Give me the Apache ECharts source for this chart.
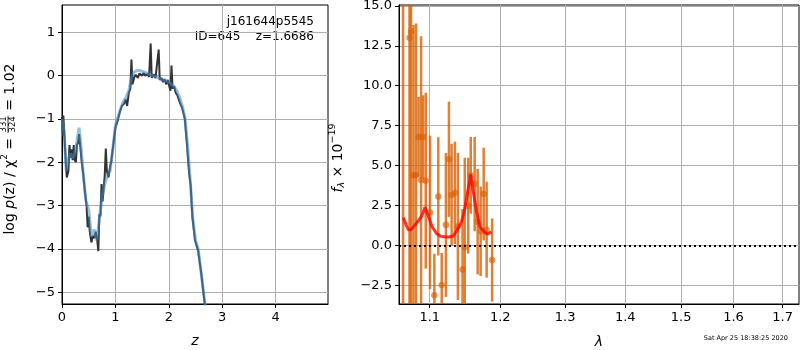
<!DOCTYPE html>
<html>
<head>
<meta charset="utf-8">
<script src="https://cdn.jsdelivr.net/npm/echarts@6/dist/echarts.min.js"></script>
<style>
  html, body { margin: 0; padding: 0; background: #fff; }
  #chart { width: 800px; height: 350px; }
</style>
</head>
<body>
<div id="chart"></div>
<script>
// left panel: log p(z)
const zDark = [0.00,0.02,0.025,0.04,0.07,0.09,0.12,0.14,0.16,0.18,0.20,0.22,0.24,0.26,0.28,0.30,0.32,0.34,0.37,0.40,
  0.43,0.46,0.48,0.50,0.52,0.55,0.58,0.61,0.63,0.66,0.68,0.70,0.72,0.74,0.76,0.78,0.80,0.82,0.84,0.87,
  0.90,0.92,0.96,1.00,1.04,1.08,1.12,1.16,1.19,1.22,1.25,1.28,1.30,1.32,1.35,1.38,1.42,1.45,1.48,1.50,
  1.53,1.56,1.60,1.63,1.66,1.68,1.72,1.75,1.78,1.81,1.83,1.86,1.89,1.92,1.95,1.98,2.01,2.03,2.05,2.07,
  2.10,2.13,2.16,2.20,2.25,2.30,2.34,2.38,2.41,2.44,2.49,2.55,2.61,2.67,2.70];
const logpDark = [-0.95,-1.40,-0.92,-1.25,-2.00,-2.35,-2.20,-1.60,-1.90,-1.70,-1.95,-1.60,-1.95,-2.00,-1.60,-1.55,-1.35,-1.60,-2.00,-2.30,
  -2.70,-3.00,-3.50,-3.25,-3.60,-3.85,-3.70,-3.75,-3.60,-3.80,-4.05,-3.20,-3.25,-2.50,-2.90,-2.60,-2.30,-1.68,-2.20,-2.35,
  -2.10,-2.00,-1.60,-1.20,-1.05,-0.85,-0.70,-0.65,-0.55,-0.70,-0.40,-0.30,0.37,-0.20,-0.05,0.02,-0.05,0.05,0.08,0.00,
  0.06,0.00,0.04,-0.03,0.74,-0.05,0.03,-0.06,-0.08,0.60,-0.10,-0.05,-0.15,-0.08,-0.20,-0.10,-0.25,-0.35,0.23,-0.30,
  -0.25,-0.40,-0.45,-0.60,-0.75,-1.00,-1.60,-2.25,-2.55,-3.25,-3.80,-4.05,-4.60,-5.25,-5.60];
const zFit = [0.00,0.04,0.08,0.12,0.16,0.20,0.24,0.28,0.32,0.35,0.40,0.45,0.50,0.55,0.60,0.65,0.70,0.75,0.80,0.85,
  0.90,0.95,1.00,1.05,1.10,1.15,1.20,1.25,1.30,1.35,1.40,1.45,1.50,1.55,1.60,1.65,1.70,1.75,1.80,1.85,
  1.90,1.95,2.00,2.05,2.10,2.15,2.20,2.25,2.30,2.35,2.40,2.45,2.50,2.55,2.60,2.65,2.70];
const logpFit = [-1.00,-1.30,-2.20,-1.90,-1.80,-1.90,-1.80,-1.50,-1.20,-1.55,-2.30,-2.90,-3.10,-3.70,-3.55,-3.80,-3.30,-2.80,-2.50,-2.30,
  -2.20,-1.70,-1.15,-0.95,-0.75,-0.60,-0.50,-0.35,-0.05,0.08,0.12,0.12,0.10,0.08,0.05,0.02,0.00,-0.02,-0.05,-0.08,
  -0.10,-0.12,-0.15,-0.20,-0.25,-0.35,-0.50,-0.70,-0.95,-1.60,-2.40,-3.30,-3.80,-4.00,-4.50,-5.00,-5.50];
const zTicks = [0, 1, 2, 3, 4];
const logpTicks = [-5, -4, -3, -2, -1, 0, 1];

// right panel: spectrum
const lam = [1.0644,1.0729,1.0749,1.0782,1.0816,1.0849,1.0883,1.0910,1.0946,1.1004,1.1063,1.1117,1.1164,1.1222,1.1264,
  1.1301,1.1347,1.1389,1.1454,1.1486,1.1535,1.1571,1.1627,1.1670,1.1713,1.1757,1.1800,1.1880];
const flux = [17.0,13.0,13.4,4.4,4.4,6.8,4.1,6.8,4.06,2.08,-3.1,3.08,-2.46,1.3,5.4,
  3.17,3.3,1.2,-1.5,-0.1,2.5,4.4,3.85,1.5,0.9,3.23,1.0,-0.9];
const fluxErr = [25,18,18,9.4,9.5,2.5,9.0,2.6,5.5,4.8,2.6,3.7,2.0,4.5,3.6,
  3.2,3.2,4.6,3.8,5.6,3.0,2.4,2.95,3.3,2.8,2.9,3.0,2.6];
const lamModel = [1.0648,1.0684,1.0714,1.0750,1.0803,1.0856,1.0897,1.0936,1.0977,1.1031,1.1095,1.1154,1.1209,1.1264,
  1.1323,1.1375,1.1441,1.1486,1.1528,1.1571,1.1606,1.1651,1.1699,1.1742,1.1794,1.1827,1.1870];
const fluxModel = [1.75,1.3,1.0,1.0,1.3,1.6,1.9,2.4,1.9,1.2,0.75,0.58,0.55,0.54,
  0.6,0.95,1.5,2.3,3.4,4.45,3.4,2.2,1.2,1.0,0.75,0.75,0.85];
const lamTicks = [1.1, 1.2, 1.3, 1.4, 1.5, 1.6, 1.7];
const fluxTicks = [-2.5, 0, 2.5, 5, 7.5, 10, 12.5, 15];

const FONT = "DejaVu Sans";
const ORANGE = "rgba(217, 95, 2, 0.8)";
const minus = (s) => String(s).replace("-", "\u2212");

function axisCommon(ticks, fmt) {
  return {
    axisLine: { show: true, onZero: false, lineStyle: { color: "#000", width: 1 } },
    axisTick: { show: true, length: 4, customValues: ticks, lineStyle: { color: "#000" } },
    axisLabel: { customValues: ticks, color: "#000", fontFamily: FONT, fontSize: 13, margin: 7, formatter: fmt },
    splitLine: { show: true, lineStyle: { color: "#b0b0b0", width: 1 } },
  };
}

// composite label (mathtext-like) laid out in a rotated group
const measureCtx = document.createElement("canvas").getContext("2d");
function fontStr(size, italic) {
  return (italic ? "italic " : "") + size + "px '" + FONT + "'";
}
function richLabel(pieces, cx, cy) {
  const items = [];
  let total = 0;
  pieces.forEach((p) => {
    let w;
    if (p.frac) {
      measureCtx.font = fontStr(p.size, false);
      w = Math.max(measureCtx.measureText(p.frac[0]).width, measureCtx.measureText(p.frac[1]).width) + 2;
    } else {
      measureCtx.font = fontStr(p.size, p.italic);
      w = measureCtx.measureText(p.text).width;
    }
    items.push({ p: p, w: w });
    total += w;
  });
  const children = [];
  let x = -total / 2;
  items.forEach(({ p, w }) => {
    if (p.frac) {
      const mid = x + w / 2;
      children.push({ type: "text", x: mid, y: -6, style: { text: p.frac[0], font: fontStr(p.size, false), fill: "#000", align: "center", verticalAlign: "middle" } });
      children.push({ type: "text", x: mid, y: 2.5, style: { text: p.frac[1], font: fontStr(p.size, false), fill: "#000", align: "center", verticalAlign: "middle" } });
      children.push({ type: "line", shape: { x1: x + 0.5, y1: -2, x2: x + w - 0.5, y2: -2 }, style: { stroke: "#000", lineWidth: 0.8 } });
    } else {
      children.push({ type: "text", x: x, y: p.dy || 0, style: { text: p.text, font: fontStr(p.size, p.italic), fill: "#000", align: "left", verticalAlign: "middle" } });
    }
    x += w;
  });
  return { type: "group", x: cx, y: cy, rotation: Math.PI / 2, children: children, silent: true };
}

const chart = echarts.init(document.getElementById("chart"));
const option = {
  animation: false,
  backgroundColor: "#fff",
  grid: [
    { left: 62, top: 5, width: 266, height: 299, outerBoundsMode: "none", containLabel: false, show: true, borderColor: "#000", borderWidth: 1, backgroundColor: "transparent" },
    { left: 399, top: 5, width: 400, height: 299, outerBoundsMode: "none", containLabel: false, show: true, borderColor: "#000", borderWidth: 1, backgroundColor: "transparent" },
  ],
  xAxis: [
    Object.assign({
      type: "value", gridIndex: 0, min: 0, max: 4.98,
      name: "z", nameLocation: "middle", nameGap: 30,
      nameTextStyle: { fontFamily: FONT, fontSize: 14, fontStyle: "italic", color: "#000" },
    }, axisCommon(zTicks, (v) => minus(v))),
    Object.assign({
      type: "log", gridIndex: 1, min: 1.0591, max: 1.7346,
      name: "\u03bb", nameLocation: "middle", nameGap: 31,
      nameTextStyle: { fontFamily: FONT, fontSize: 14, fontStyle: "italic", color: "#000" },
    }, axisCommon(lamTicks, (v) => v.toFixed(1))),
  ],
  yAxis: [
    Object.assign({ type: "value", gridIndex: 0, min: -5.27, max: 1.63 }, axisCommon(logpTicks, (v) => minus(v))),
    Object.assign({ type: "value", gridIndex: 1, min: -3.65, max: 15.05 }, axisCommon(fluxTicks, (v) => minus(v.toFixed(1)))),
  ],
  series: [
    {
      type: "line", xAxisIndex: 0, yAxisIndex: 0, showSymbol: false, clip: true,
      data: zDark.map((z, i) => [z, logpDark[i]]),
      lineStyle: { color: "#333333", width: 2 },
    },
    {
      type: "line", xAxisIndex: 0, yAxisIndex: 0, showSymbol: false, clip: true,
      data: zFit.map((z, i) => [z, logpFit[i]]),
      lineStyle: { color: "rgba(70, 140, 200, 0.55)", width: 3 },
    },
    {
      type: "custom", xAxisIndex: 1, yAxisIndex: 1, clip: true,
      data: lam.map((l, i) => [l, flux[i], fluxErr[i]]),
      renderItem: function (params, api) {
        const x = api.value(0), y = api.value(1), e = api.value(2);
        const cs = params.coordSys;
        const top = api.coord([x, y + e]);
        const bot = api.coord([x, y - e]);
        const y1 = Math.max(top[1], cs.y), y2 = Math.min(bot[1], cs.y + cs.height);
        return { type: "line", shape: { x1: top[0], y1: y1, x2: bot[0], y2: y2 }, style: { stroke: ORANGE, lineWidth: 2.5 } };
      },
    },
    {
      type: "scatter", xAxisIndex: 1, yAxisIndex: 1, symbolSize: 6.5, clip: true,
      data: lam.map((l, i) => [l, flux[i]]),
      itemStyle: { color: ORANGE },
    },
    {
      type: "line", xAxisIndex: 1, yAxisIndex: 1, showSymbol: false, clip: true,
      data: lamModel.map((l, i) => [l, fluxModel[i]]),
      lineStyle: { color: "rgba(255, 0, 0, 0.8)", width: 3 },
      markLine: {
        silent: true, symbol: "none", label: { show: false },
        lineStyle: { color: "#000", type: [2, 3], width: 2 },
        data: [{ yAxis: 0 }],
      },
    },
  ],
  graphic: [
    { type: "text", right: 800 - 314, top: 16, style: { text: "j161644p5545", font: "12px '" + FONT + "'", fill: "#000", align: "right" } },
    { type: "text", right: 800 - 314, top: 31, style: { text: "ID=645    z=1.6686", font: "12px '" + FONT + "'", fill: "#000", align: "right" } },
    { type: "text", right: 800 - 788, top: 335, style: { text: "Sat Apr 25 18:38:25 2020", font: "6.5px '" + FONT + "'", fill: "#000" } },
    richLabel([
      { text: "log ", size: 14 },
      { text: "p", size: 14, italic: true },
      { text: "(z) / \u03c7", size: 14 },
      { text: "2", size: 9, dy: -5.5 },
      { text: " = ", size: 14 },
      { frac: ["331", "324"], size: 8.5 },
      { text: " = 1.02", size: 14 },
    ], 10, 149),
    richLabel([
      { text: "f", size: 14, italic: true },
      { text: "\u03bb", size: 9.5, italic: true, dy: 3.5 },
      { text: " \u00d7 10", size: 14 },
      { text: "\u221219", size: 9.5, dy: -5.5 },
    ], 338.5, 158),
  ],
};
chart.setOption(option);
window.addEventListener("resize", () => chart.resize());
</script>
</body>
</html>
